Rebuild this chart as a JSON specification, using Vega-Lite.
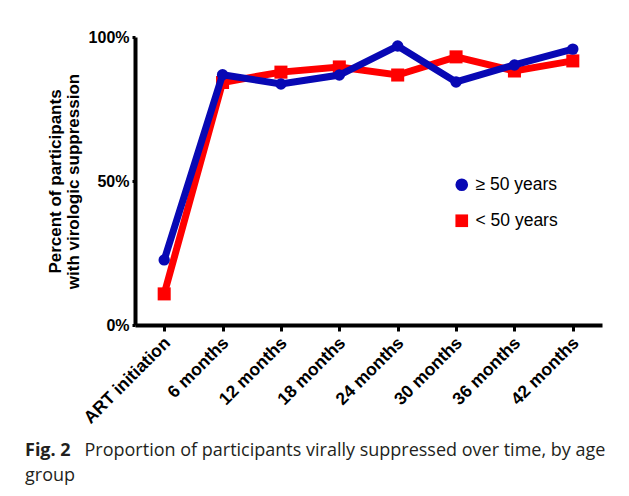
{
  "$schema": "https://vega.github.io/schema/vega-lite/v6.json",
  "autosize": "none",
  "width": 467,
  "height": 288,
  "padding": {"left": 135, "top": 37, "right": 27, "bottom": 171},
  "background": "white",
  "config": {
    "view": {"stroke": null},
    "axis": {"grid": false, "domainColor": "black", "domainWidth": 4, "tickColor": "black", "tickWidth": 3, "labelColor": "black", "labelFont": "Liberation Sans", "labelFontWeight": "bold", "labelFontSize": 16, "titleFont": "Liberation Sans", "titleFontWeight": "bold", "titleFontSize": 17, "titleColor": "black"}
  },
  "title": {
    "text": "Fig. 2",
    "subtitle": "group",
    "orient": "bottom",
    "anchor": "start",
    "frame": "group",
    "dx": -110,
    "offset": -17,
    "font": "Open Sans",
    "fontSize": 18,
    "fontWeight": "bold",
    "color": "#231f20",
    "subtitleFont": "Open Sans",
    "subtitleFontSize": 18,
    "subtitleFontWeight": "normal",
    "subtitleColor": "#231f20",
    "subtitlePadding": 7
  },
  "data": {
    "values": [
      {"time": "ART initiation", "group": "< 50 years", "pct": 10.8},
      {"time": "6 months", "group": "< 50 years", "pct": 84.2},
      {"time": "12 months", "group": "< 50 years", "pct": 87.8},
      {"time": "18 months", "group": "< 50 years", "pct": 89.6},
      {"time": "24 months", "group": "< 50 years", "pct": 86.8},
      {"time": "30 months", "group": "< 50 years", "pct": 93.1},
      {"time": "36 months", "group": "< 50 years", "pct": 88.2},
      {"time": "42 months", "group": "< 50 years", "pct": 91.7},
      {"time": "ART initiation", "group": "≥ 50 years", "pct": 22.6},
      {"time": "6 months", "group": "≥ 50 years", "pct": 86.9},
      {"time": "12 months", "group": "≥ 50 years", "pct": 83.7},
      {"time": "18 months", "group": "≥ 50 years", "pct": 86.8},
      {"time": "24 months", "group": "≥ 50 years", "pct": 96.9},
      {"time": "30 months", "group": "≥ 50 years", "pct": 84.4},
      {"time": "36 months", "group": "≥ 50 years", "pct": 90.3},
      {"time": "42 months", "group": "≥ 50 years", "pct": 95.8}
    ]
  },
  "encoding": {
    "x": {
      "field": "time", "type": "nominal",
      "sort": ["ART initiation", "6 months", "12 months", "18 months", "24 months", "30 months", "36 months", "42 months"],
      "scale": {"type": "point", "padding": 0.5},
      "axis": {
        "title": "Proportion of participants virally suppressed over time, by age",
        "titleFont": "Open Sans", "titleFontSize": 18, "titleFontWeight": "normal", "titleColor": "#231f20",
        "titleX": -51, "titleY": 130, "titleAlign": "left", "titleBaseline": "alphabetic", "titleAngle": 0,
        "labelAngle": -45, "labelAlign": "right", "labelBaseline": "middle", "labelFontSize": 17.5, "labelOffset": 3, "tickSize": 6, "labelPadding": 9
      }
    },
    "y": {
      "field": "pct", "type": "quantitative",
      "scale": {"domain": [0, 100], "nice": false},
      "axis": {"values": [0, 50, 100], "labelExpr": "datum.value + '%'", "tickSize": 3, "labelPadding": 3, "title": ["Percent of participants", "with virologic suppression"], "titlePadding": 6, "titleLineHeight": 18}
    },
    "color": {
      "field": "group", "type": "nominal",
      "scale": {"domain": ["≥ 50 years", "< 50 years"], "range": ["#0808b4", "#ff0000"]},
      "legend": {"title": null, "orient": "none", "legendX": 318, "legendY": 139, "symbolSize": 160, "labelFont": "Liberation Sans", "labelFontSize": 17.5, "labelColor": "black", "rowPadding": 17, "labelOffset": 5, "symbolStrokeWidth": 0}
    },
    "shape": {
      "field": "group", "type": "nominal",
      "scale": {"domain": ["≥ 50 years", "< 50 years"], "range": ["circle", "square"]},
      "legend": {"title": null, "orient": "none", "legendX": 318, "legendY": 139, "symbolSize": 160, "labelFont": "Liberation Sans", "labelFontSize": 17.5, "labelColor": "black", "rowPadding": 17, "labelOffset": 5, "symbolStrokeWidth": 0}
    }
  },
  "layer": [
    {"transform": [{"filter": "datum.group == '< 50 years'"}], "mark": {"type": "line", "strokeWidth": 7, "strokeJoin": "miter"}, "encoding": {"shape": null}},
    {"transform": [{"filter": "datum.group == '< 50 years'"}], "mark": {"type": "point", "filled": true, "size": 170, "opacity": 1}},
    {"transform": [{"filter": "datum.group == '≥ 50 years'"}], "mark": {"type": "line", "strokeWidth": 7, "strokeJoin": "miter"}, "encoding": {"shape": null}},
    {"transform": [{"filter": "datum.group == '≥ 50 years'"}], "mark": {"type": "point", "filled": true, "size": 130, "opacity": 1}}
  ]
}
